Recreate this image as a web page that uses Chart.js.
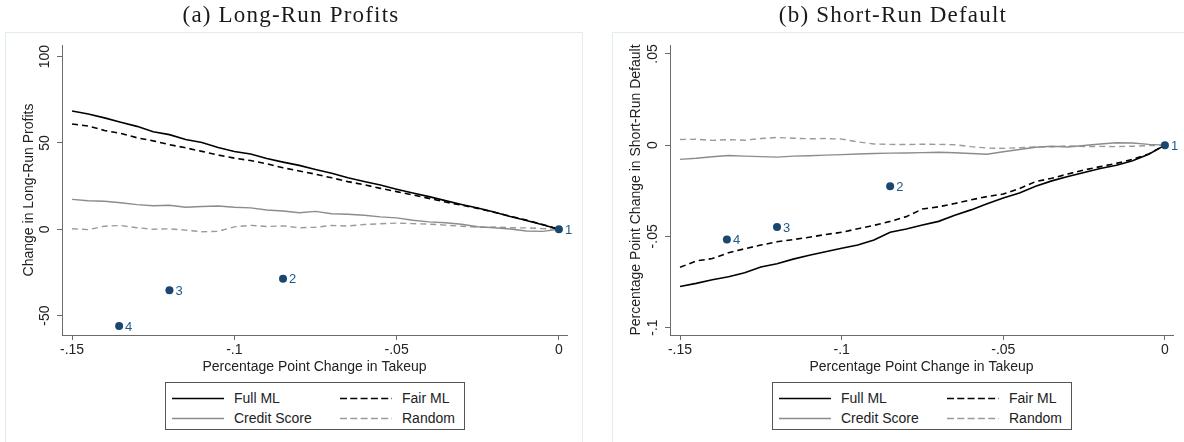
<!DOCTYPE html>
<html>
<head>
<meta charset="utf-8">
<script src="https://cdn.jsdelivr.net/npm/chart.js@4.4.1/dist/chart.umd.min.js"></script>
<style>
  html,body{margin:0;padding:0;background:#fff;}
  body{width:1184px;height:442px;overflow:hidden;position:relative;font-family:"Liberation Sans",Arial,sans-serif;color:#222;}
  .panel{position:absolute;top:0;width:592px;height:442px;}
  .panel canvas{position:absolute;left:0;top:0;}
  .frame{position:absolute;border:1px solid #e3edf0;box-sizing:border-box;}
  .title{position:absolute;top:2px;width:400px;margin-left:-200px;text-align:center;font-family:"Liberation Serif","Times New Roman",serif;font-size:23px;letter-spacing:1.2px;color:#1a1a1a;white-space:nowrap;}
  .legend{position:absolute;top:382px;width:300px;height:48px;border:1px solid #555;box-sizing:border-box;background:#fff;}
  .legend .item{position:absolute;height:20px;font-size:14px;line-height:20px;white-space:nowrap;}
  .legend svg{position:absolute;top:9px;}
  .legend span{position:absolute;top:0;}
</style>
</head>
<body>
<div class="frame" style="left:5px;top:32px;width:578px;height:420px;"></div>
<div class="frame" style="left:612px;top:32px;width:600px;height:420px;"></div>

<div class="panel" style="left:0;"><canvas id="cA" width="592" height="442"></canvas></div>
<div class="panel" style="left:592px;"><canvas id="cB" width="592" height="442"></canvas></div>

<div class="title" style="left:291px;">(a) Long-Run Profits</div>
<div class="title" style="left:893px;">(b) Short-Run Default</div>

<div id="legA" class="legend" style="left:165px;"></div>
<div id="legB" class="legend" style="left:772px;"></div>

<script>
// ---------------- DATA ----------------
const takeup = [-0.150,-0.145,-0.140,-0.135,-0.130,-0.125,-0.120,-0.115,-0.110,-0.105,-0.100,-0.095,-0.090,-0.085,-0.080,-0.075,-0.070,-0.065,-0.060,-0.055,-0.050,-0.045,-0.040,-0.035,-0.030,-0.025,-0.020,-0.015,-0.010,-0.005,0.000];

// Panel (a): Change in Long-Run Profits
const profitFullML = [68.5,66.8,64.5,62.0,59.6,56.5,54.8,52.0,50.2,47.3,45.0,43.6,41.0,38.9,37.0,34.6,32.4,29.8,27.7,25.6,23.2,21.0,18.9,16.6,14.4,12.3,10.0,7.4,5.1,2.6,0];
const profitFairML = [61.0,59.8,57.2,55.5,53.0,51.2,49.0,47.2,45.1,43.0,41.2,39.8,37.9,35.6,33.8,31.9,29.8,27.6,25.8,23.7,21.8,19.9,17.9,15.8,14.0,12.1,9.9,7.6,5.3,2.8,0];
const profitCredit = [17.3,16.5,16.2,15.4,14.3,13.6,13.9,12.8,13.2,13.5,12.8,12.4,11.2,10.6,9.6,10.4,9.0,8.7,8.1,7.2,6.6,5.2,4.3,3.8,2.9,1.5,0.9,0.2,-1.0,-1.2,0];
const profitRandom = [0.3,-0.2,1.8,2.2,0.9,0.0,0.3,-0.5,-1.4,-1.2,1.4,2.3,1.6,2.0,0.9,1.2,2.2,1.9,2.8,3.2,3.6,3.3,3.0,2.4,1.8,1.2,1.3,0.9,0.8,0.4,0];

// Panel (b): Percentage Point Change in Short-Run Default
const defaultFullML = [-0.0775,-0.0758,-0.0738,-0.0722,-0.0700,-0.0668,-0.0650,-0.0625,-0.0604,-0.0585,-0.0565,-0.0548,-0.0520,-0.0478,-0.0460,-0.0438,-0.0418,-0.0385,-0.0355,-0.0322,-0.0290,-0.0262,-0.0225,-0.0196,-0.0172,-0.0150,-0.0128,-0.0110,-0.0086,-0.0050,0];
const defaultFairML = [-0.0670,-0.0635,-0.0622,-0.0590,-0.0568,-0.0548,-0.0530,-0.0518,-0.0505,-0.0490,-0.0478,-0.0458,-0.0440,-0.0418,-0.0392,-0.0350,-0.0338,-0.0320,-0.0300,-0.0282,-0.0268,-0.0238,-0.0200,-0.0182,-0.0158,-0.0136,-0.0118,-0.0100,-0.0078,-0.0048,0];
const defaultCredit = [-0.0078,-0.0072,-0.0064,-0.0057,-0.0060,-0.0063,-0.0066,-0.0060,-0.0058,-0.0055,-0.0052,-0.0049,-0.0046,-0.0044,-0.0043,-0.0041,-0.0039,-0.0042,-0.0046,-0.0050,-0.0036,-0.0024,-0.0012,-0.0006,-0.0010,-0.0002,0.0006,0.0013,0.0012,0.0004,0];
const defaultRandom = [0.0031,0.0032,0.0026,0.0030,0.0027,0.0036,0.0042,0.0038,0.0035,0.0036,0.0033,0.0018,0.0006,0.0004,0.0003,0.0005,0.0004,0.0002,-0.0008,-0.0016,-0.0018,-0.0014,-0.0010,-0.0009,-0.0004,-0.0008,-0.0007,-0.0008,-0.0006,-0.0003,0];

// Numbered policy points
const pointLabels = ["1","2","3","4"];
const pointTakeup = [0, -0.085, -0.12, -0.1355];
const pointProfit = [0, -28.6, -35.3, -56.0];
const pointDefault = [0, -0.0225, -0.0449, -0.0518];

// Tick labels
const xTicks = [-0.15,-0.1,-0.05,0];
const yTicksA = [-50,0,50,100];
const yTicksB = [-0.1,-0.05,0,0.05];

const seriesNames = ["Full ML","Fair ML","Credit Score","Random"];
const xTitle = "Percentage Point Change in Takeup";
const yTitleA = "Change in Long-Run Profits";
const yTitleB = "Percentage Point Change in Short-Run Default";

// ---------------- HELPERS ----------------
function fmt(v){
  if (Math.abs(v) < 1e-12) return "0";
  const s = String(Math.abs(+v.toPrecision(6))).replace(/^0\./, ".");
  return (v < 0 ? "-" : "") + s;
}
const toXY = arr => takeup.map((x,i)=>({x:x, y:arr[i]}));
const styles = [
  {color:"#000000", width:1.6, dash:[]},
  {color:"#000000", width:1.6, dash:[6,4]},
  {color:"#8c8c8c", width:1.4, dash:[]},
  {color:"#9a9a9a", width:1.4, dash:[6,4]}
];

const FONT = '"Liberation Sans", Arial, sans-serif';

const axisText = {
  id: 'axisText',
  afterDraw(chart, args, o) {
    const ctx = chart.ctx, y = chart.scales.y, ca = chart.chartArea;
    ctx.save();
    ctx.fillStyle = '#222';
    ctx.font = '14px ' + FONT;
    ctx.textAlign = 'center';
    ctx.textBaseline = 'middle';
    y.ticks.forEach(t => {
      const py = y.getPixelForValue(t.value);
      ctx.save(); ctx.translate(o.tickX, py); ctx.rotate(-Math.PI/2);
      ctx.fillText(fmt(t.value), 0, 0); ctx.restore();
    });
    ctx.save(); ctx.translate(o.titleX, o.titleY); ctx.rotate(-Math.PI/2);
    ctx.fillText(o.yTitle, 0, 0); ctx.restore();
    ctx.fillText(xTitle, (ca.left + ca.right)/2, o.xTitleY);
    // point labels
    const meta = chart.getDatasetMeta(0);
    ctx.font = '13px ' + FONT;
    ctx.fillStyle = '#1f5a8a';
    ctx.textAlign = 'left';
    meta.data.forEach((el, i) => {
      ctx.fillText(pointLabels[i], el.x + 6, el.y + 1);
    });
    ctx.restore();
  }
};

function makeChart(id, vals, pts, yTicks, ymin, ymax, yWidth, padRight, opts) {
  const datasets = [{
    type:'scatter', label:'points',
    data: pointTakeup.map((x,i)=>({x:x, y:pts[i]})),
    pointRadius:4, pointHoverRadius:4, backgroundColor:'#1a476f', borderWidth:0, showLine:false
  }];
  vals.forEach((arr, k) => {
    datasets.push({
      type:'line', label:seriesNames[k], data:toXY(arr),
      borderColor:styles[k].color, borderWidth:styles[k].width, borderDash:styles[k].dash,
      pointRadius:0, tension:0, fill:false
    });
  });
  return new Chart(document.getElementById(id), {
    data:{datasets},
    options:{
      responsive:false, animation:false, devicePixelRatio:1,
      layout:{padding:{left:0, top:45, right:padRight, bottom:0}},
      plugins:{legend:{display:false}, tooltip:{enabled:false}, axisText:opts},
      scales:{
        x:{
          type:'linear', min:-0.1531, max:0.0025,
          afterBuildTicks:s=>{ s.ticks = xTicks.map(v=>({value:v})); },
          afterFit:s=>{ s.height = 107; },
          grid:{display:true, drawOnChartArea:false, drawTicks:true, tickLength:5, color:'#6b6b6b', lineWidth:1},
          border:{display:true, color:'#6b6b6b', width:1},
          ticks:{font:{family:FONT, size:14}, color:'#222', padding:2, maxRotation:0, minRotation:0, autoSkip:false, callback:v=>fmt(v)}
        },
        y:{
          type:'linear', min:ymin, max:ymax,
          afterBuildTicks:s=>{ s.ticks = yTicks.map(v=>({value:v})); },
          afterFit:s=>{ s.width = yWidth; },
          grid:{display:true, drawOnChartArea:false, drawTicks:true, tickLength:5, color:'#6b6b6b', lineWidth:1},
          border:{display:true, color:'#6b6b6b', width:1},
          ticks:{display:false}
        }
      }
    },
    plugins:[axisText]
  });
}

makeChart('cA', [profitFullML, profitFairML, profitCredit, profitRandom], pointProfit, yTicksA,
  -61.2, 106.7, 62, 25, {tickX:45, titleX:29, titleY:190, xTitleY:367, yTitle:yTitleA});
makeChart('cB', [defaultFullML, defaultFairML, defaultCredit, defaultRandom], pointDefault, yTicksB,
  -0.1041, 0.0549, 78, 11, {tickX:61, titleX:44, titleY:190, xTitleY:367, yTitle:yTitleB});

// ---------------- LEGENDS ----------------
function buildLegend(id){
  const el = document.getElementById(id);
  const pos = [[6,5],[174,5],[6,25],[174,25]];
  seriesNames.forEach((n,k)=>{
    const st = styles[k];
    const d = document.createElement('div');
    d.className = 'item';
    d.style.left = pos[k][0] + 'px';
    d.style.top = pos[k][1] + 'px';
    d.innerHTML = '<svg width="52" height="3"><line x1="0" y1="1.5" x2="52" y2="1.5" stroke="'+st.color+'" stroke-width="'+st.width+'"'+(st.dash.length?' stroke-dasharray="7 3.3"':'')+'/></svg><span style="left:62px">'+n+'</span>';
    el.appendChild(d);
  });
}
buildLegend('legA');
buildLegend('legB');
</script>
</body>
</html>
